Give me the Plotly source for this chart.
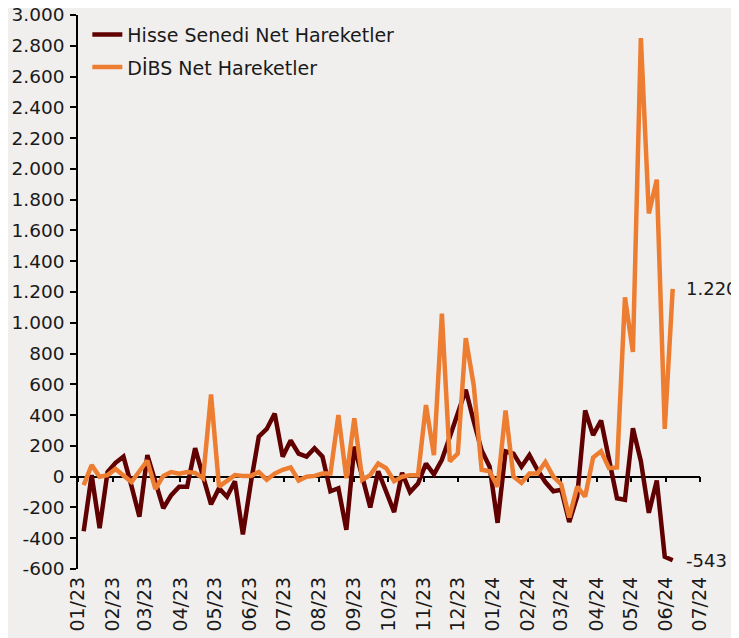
import plotly.graph_objects as go
import pandas as pd

# Weekly observations (Fridays), Jan 2023 - Jun 2024
dates = pd.date_range("2023-01-06", periods=75, freq="7D")

hisse = [-355, 10, -335, 30, 90, 130, -60, -260, 140, -35,
         -205, -120, -65, -65, 185, 0, -180, -75, -130, -30,
         -375, -40, 260, 310, 410, 130, 235, 150, 130, 185,
         130, -95, -75, -345, 195, 0, -200, 35, -100, -230,
         25, -100, -45, 85, 15, 110, 260, 410, 565, 360,
         170, 65, -300, 165, 150, 65, 140, 45, -35, -95,
         -85, -295, -130, 430, 270, 365, 110, -140, -150, 315,
         100, -235, -25, -520, -543]

dibs = [-55, 75, 0, 10, 50, 10, -35, 35, 105, -80,
        5, 30, 20, 30, 25, -10, 535, -65, -30, 10,
        5, 5, 30, -20, 20, 45, 60, -25, 0, 5,
        20, 20, 400, -10, 380, -20, 10, 85, 55, -30,
        0, 10, 10, 465, 140, 1060, 100, 150, 900, 595,
        45, 35, -65, 430, 0, -40, 20, 20, 95, 0,
        -50, -265, -65, -130, 125, 165, 55, 60, 1165, 810,
        2850, 1710, 1930, 310, 1220]

series_names = ["Hisse Senedi Net Hareketler", "DİBS Net Hareketler"]
series_colors = ["#600000", "#ED7D31"]

month_ticks = pd.date_range("2023-01-01", "2024-07-01", freq="MS")
month_labels = [d.strftime("%m/%y") for d in month_ticks]
y_ticks = list(range(-600, 3001, 200))
y_labels = [f"{v:,}".replace(",", ".") for v in y_ticks]

def tr(v):
    return f"{v:,}".replace(",", ".")

FONT = "DejaVu Sans"
TXT = "#1a1a1a"
BG = "#F1EFEE"

fig = go.Figure()
for name, vals, col, grp in zip(series_names, [hisse, dibs], series_colors, ["a", "b"]):
    fig.add_trace(go.Scatter(x=dates, y=vals, mode="lines", name=name,
                             legendgroup=grp,
                             line=dict(color=col, width=4.5),
                             hoverinfo="skip"))

# helper trace for the axis drawn through zero
fig.add_trace(go.Scatter(x=[month_ticks[0]], y=[0], xaxis="x2", mode="markers",
                         marker=dict(opacity=0), showlegend=False, hoverinfo="skip"))

for vals in [dibs, hisse]:
    fig.add_annotation(x=dates[-1], y=vals[-1], text=tr(vals[-1]), showarrow=False,
                       xanchor="left", yanchor="middle", xshift=11,
                       font=dict(family=FONT, size=18, color=TXT))

xr = ["2023-01-01", "2024-07-01"]
fig.update_layout(
    width=731, height=630,
    margin=dict(l=70, r=39, t=7, b=69, autoexpand=False),
    paper_bgcolor=BG, plot_bgcolor=BG,
    font=dict(family=FONT, size=19, color=TXT),
    showlegend=True,
    legend=dict(x=0.015, y=0.999, xanchor="left", yanchor="top",
                bgcolor="rgba(0,0,0,0)", font=dict(family=FONT, size=19, color=TXT),
                traceorder="grouped", tracegroupgap=5),
    xaxis=dict(type="date", range=xr, tickvals=month_ticks, ticktext=month_labels,
               tickangle=-90, ticks="", showline=False, showgrid=False, zeroline=False,
               automargin=False, ticklabelstandoff=3,
               tickfont=dict(family=FONT, size=19, color=TXT)),
    xaxis2=dict(type="date", range=xr, overlaying="x", anchor="free", position=1/6,
                tickvals=month_ticks, ticks="outside", ticklen=5, tickwidth=1.5,
                tickcolor="black", showticklabels=False, showline=True,
                linecolor="black", linewidth=1.5, showgrid=False, zeroline=False,
                automargin=False, layer="below traces"),
    yaxis=dict(range=[-600, 3000], tickvals=y_ticks, ticktext=y_labels,
               ticks="outside", ticklen=6, tickwidth=1.5, tickcolor="black",
               showline=True, linecolor="black", linewidth=1.5,
               showgrid=False, zeroline=False, layer="below traces",
               ticklabelstandoff=2, automargin=False, ticklabeloverflow="allow",
               tickfont=dict(family=FONT, size=18.5, color=TXT)),
)

fig.write_html("out.html")
